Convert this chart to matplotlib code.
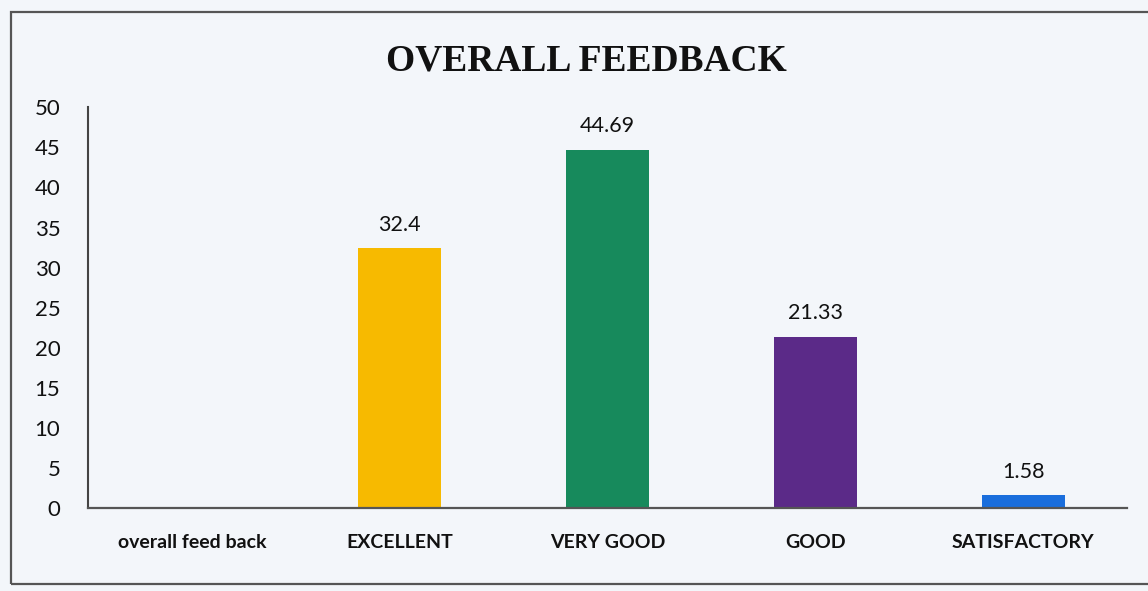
import matplotlib.pyplot as plt
from matplotlib.patches import Rectangle

categories = ["overall feed back", "EXCELLENT", "VERY GOOD", "GOOD", "SATISFACTORY"]
values = [None, 32.4, 44.69, 21.33, 1.58]
bar_colors = ["#FFFFFF", "#F7BA00", "#178A5C", "#5B2A88", "#1A6EDC"]
y_ticks = [0, 5, 10, 15, 20, 25, 30, 35, 40, 45, 50]

bg = "#F3F6FA"
fig = plt.figure(figsize=(11.48, 5.91), dpi=100, facecolor=bg)
ax = fig.add_axes([0.0767, 0.1404, 0.905, 0.678], facecolor=bg)

# outer frame of the chart area
fig.patches.append(Rectangle((0.010, 0.012), 0.995, 0.968, transform=fig.transFigure,
                             fill=False, edgecolor="#555555", linewidth=1.6))

xs = list(range(len(categories)))
for x, v, c in zip(xs, values, bar_colors):
    if v is None:
        continue
    ax.bar(x, v, width=0.40, color=c)
    ax.text(x, v + 1.7, f"{v:g}", ha="center", va="bottom",
            fontsize=15.5, family="Lato", color="#111111")

ax.set_xlim(-0.5, len(categories) - 0.5)
ax.set_ylim(0, 50)
ax.set_yticks(y_ticks)
ax.set_yticklabels([str(t) for t in y_ticks], family="Lato", fontsize=16, color="#111111")
ax.set_xticks(xs)
ax.set_xticklabels(categories, family="Lato", fontsize=14, fontweight="bold", color="#111111")
ax.tick_params(axis="y", length=0, pad=20)
ax.tick_params(axis="x", length=0, pad=19)

for s in ["top", "right"]:
    ax.spines[s].set_visible(False)
ax.spines["left"].set_color("#444444")
ax.spines["left"].set_linewidth(1.5)
ax.spines["bottom"].set_color("#555555")
ax.spines["bottom"].set_linewidth(1.6)

fig.text(0.511, 0.897, "OVERALL FEEDBACK", ha="center", va="center",
         family="Liberation Serif", fontweight="bold", fontsize=27, color="#111111")

fig.savefig("out.png", dpi=100, facecolor=bg)
